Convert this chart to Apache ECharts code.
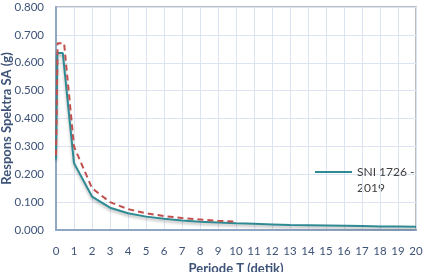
<!DOCTYPE html>
<html>
<head>
<meta charset="utf-8">
<script src="https://cdn.jsdelivr.net/npm/echarts@6/dist/echarts.min.js"></script>
<style>
html,body{margin:0;padding:0;background:#fff;}
#c{width:423px;height:272px;}
</style>
</head>
<body>
<div id="c"></div>
<script>
// SNI 1726-2019 design spectrum (solid)
const sniT  = [0, 0.076, 0.378, 1, 2, 3, 4, 5, 6, 7, 8, 9, 10, 11, 12, 13, 14, 15, 16, 17, 18, 19, 20];
const sniSA = [0.254, 0.635, 0.635, 0.240, 0.120, 0.080, 0.060, 0.048, 0.040, 0.034, 0.030, 0.027, 0.024, 0.022, 0.020, 0.018, 0.017, 0.016, 0.015, 0.014, 0.013, 0.013, 0.012];
// second spectrum (red dashed, not in legend)
const refT  = [0, 0.09, 0.45, 1, 2, 3, 4, 5, 6, 7, 8, 9, 10];
const refSA = [0.268, 0.670, 0.670, 0.300, 0.150, 0.100, 0.075, 0.060, 0.050, 0.043, 0.038, 0.033, 0.030];
const xTicks = [0, 20, 1];
const yTicks = [0, 0.8, 0.1];
const legendName = 'SNI 1726 - 2019';

const txt = '#3E5378';
const font = 'Lato';
const chart = echarts.init(document.getElementById('c'), null, {renderer: 'canvas'});
chart.setOption({
  animation: false,
  textStyle: {fontFamily: font},
  grid: {left: 56, right: 7, top: 7, bottom: 42, show: true, borderColor: '#A6A6A6', borderWidth: 1.5, outerBoundsMode: 'none', containLabel: false},
  legend: {
    data: [legendName],
    left: 315, top: 166, icon: 'rect', padding: 0,
    itemWidth: 37, itemHeight: 2, itemGap: 4,
    formatter: () => 'SNI 1726 -',
    textStyle: {color: '#404040', fontSize: 12, fontFamily: font, padding: [0, 0, 0, 0]}
  },
  graphic: [{type: 'text', left: 357, top: 182, style: {text: '2019', fill: '#404040', font: '12px ' + font}}],
  xAxis: {
    type: 'value', min: xTicks[0], max: xTicks[1], interval: xTicks[2],
    name: 'Periode T (detik)', nameLocation: 'middle', nameGap: 32, nameMoveOverlap: false,
    nameTextStyle: {color: txt, fontWeight: 'bold', fontSize: 13, fontFamily: font},
    axisLine: {lineStyle: {color: '#8FA6C4', width: 2}},
    axisTick: {show: false},
    axisLabel: {color: txt, fontSize: 11.5, margin: 15, fontFamily: font},
    splitLine: {lineStyle: {color: '#DCE3F3', width: 1}}
  },
  yAxis: {
    type: 'value', min: yTicks[0], max: yTicks[1], interval: yTicks[2],
    name: 'Respons Spektra SA (g)', nameLocation: 'middle', nameGap: 43, nameMoveOverlap: false,
    nameTextStyle: {color: txt, fontWeight: 'bold', fontSize: 13, fontFamily: font},
    axisLine: {show: true, lineStyle: {color: '#8FA6C4', width: 2}},
    axisTick: {show: false},
    axisLabel: {color: txt, fontSize: 11.5, margin: 12, fontFamily: font, formatter: v => v.toFixed(3)},
    splitLine: {lineStyle: {color: '#DCE3F3', width: 1}}
  },
  series: [
    {
      name: legendName, type: 'line', symbol: 'none', z: 3,
      data: sniT.map((t, i) => [t, sniSA[i]]),
      lineStyle: {color: '#2E8A93', width: 2, shadowColor: 'rgba(0,0,0,0.3)', shadowBlur: 3, shadowOffsetY: 2},
      itemStyle: {color: '#2E8A93'}
    },
    {
      name: 'ref', type: 'line', symbol: 'none', z: 4,
      data: refT.map((t, i) => [t, refSA[i]]),
      lineStyle: {color: '#C0504D', width: 2, type: [6, 4]},
      itemStyle: {color: '#C0504D'}
    }
  ]
});
</script>
</body>
</html>
